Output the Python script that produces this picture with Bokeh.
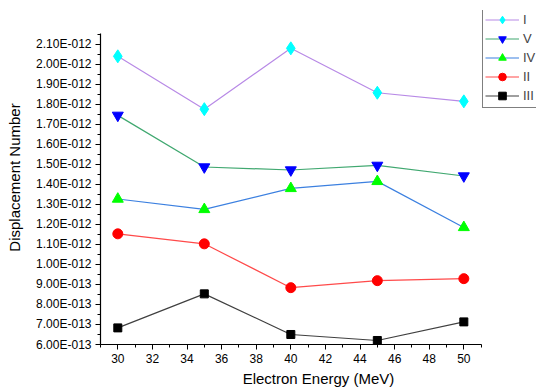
from bokeh.plotting import figure
from bokeh.models import Range1d, SingleIntervalTicker, CustomJSTickFormatter, Legend, LegendItem
from bokeh.embed import file_html
from bokeh.resources import INLINE

energy = [30, 35, 40, 45, 50]
series_names = ["I", "V", "IV", "II", "III"]
s_I = [2.04e-12, 1.776e-12, 2.08e-12, 1.858e-12, 1.815e-12]
s_V = [1.745e-12, 1.487e-12, 1.472e-12, 1.495e-12, 1.442e-12]
s_IV = [1.327e-12, 1.275e-12, 1.38e-12, 1.415e-12, 1.185e-12]
s_II = [1.153e-12, 1.103e-12, 0.884e-12, 0.919e-12, 0.929e-12]
s_III = [0.683e-12, 0.853e-12, 0.65e-12, 0.62e-12, 0.713e-12]
x_axis_span = (29, 51)
y_axis_span = (6e-13, 2.155e-12)

FONT = "Liberation Sans"

# frame extends past the axes so the legend (above/right of the axes) is not clipped
p = figure(width=536, height=389, output_backend="svg", toolbar_location=None,
           x_range=Range1d(29, 54.2), y_range=Range1d(6e-13, 2.269e-12),
           min_border_left=100, min_border_right=0, min_border_top=10, min_border_bottom=44)
p.outline_line_color = None
p.xgrid.visible = False
p.ygrid.visible = False
p.background_fill_color = "white"
p.border_fill_color = "white"

styles = [
    (s_I, "#b88ae6", "#00ffff", "diamond", 13),
    (s_V, "#40a870", "#0000ff", "inverted_triangle", 11),
    (s_IV, "#3c80e0", "#00ff00", "triangle", 11),
    (s_II, "#ff4a4a", "#ff0000", "circle", 10),
    (s_III, "#404040", "#000000", "square", 8),
]
items = []
for name, (ys, lc, mc, mk, sz) in zip(series_names, styles):
    lr = p.line(energy, ys, line_color=lc, line_width=1.2)
    mr = p.scatter(energy, ys, marker=mk, size=sz, fill_color=mc, line_color=mc)
    items.append(LegendItem(label=name, renderers=[lr, mr]))

legend = Legend(items=items, location=(382, 236), label_text_font=FONT,
                label_text_font_size="13px", glyph_width=34, glyph_height=19,
                label_height=19, label_width=24, spacing=0, padding=2, margin=0,
                label_standoff=4, border_line_color="black", border_line_width=1,
                background_fill_color="white", background_fill_alpha=1)
p.add_layout(legend, "center")

p.xaxis.ticker = SingleIntervalTicker(interval=2, num_minor_ticks=2)
p.yaxis.ticker = SingleIntervalTicker(interval=1e-13, num_minor_ticks=2)
p.xaxis.bounds = x_axis_span
p.yaxis.bounds = y_axis_span
p.yaxis.formatter = CustomJSTickFormatter(code="""
    var s = tick.toExponential(2).split('e');
    var e = parseInt(s[1]);
    var sign = e < 0 ? '-' : '+';
    var d = String(Math.abs(e));
    while (d.length < 3) { d = '0' + d; }
    return s[0] + 'E' + sign + d;
""")

for ax in (p.xaxis[0], p.yaxis[0]):
    ax.axis_line_color = "black"
    ax.axis_line_width = 1.2
    ax.major_tick_line_color = "black"
    ax.minor_tick_line_color = "black"
    ax.major_tick_out = 5
    ax.major_tick_in = 0
    ax.minor_tick_out = 3
    ax.minor_tick_in = 0
    ax.major_label_text_font = FONT
    ax.major_label_text_font_size = "12px"
    ax.major_label_text_color = "black"
    ax.axis_label_text_font = FONT
    ax.axis_label_text_font_size = "15px"
    ax.axis_label_text_font_style = "normal"
    ax.axis_label_text_color = "black"

p.xaxis.axis_label = "Electron Energy (MeV)"
p.yaxis.axis_label = "Displacement Number"
p.xaxis.major_label_standoff = 4
p.xaxis.axis_label_standoff = 4
p.yaxis.major_label_standoff = 4
p.yaxis.axis_label_standoff = 10

open("out.html", "w").write(file_html(p, INLINE))
